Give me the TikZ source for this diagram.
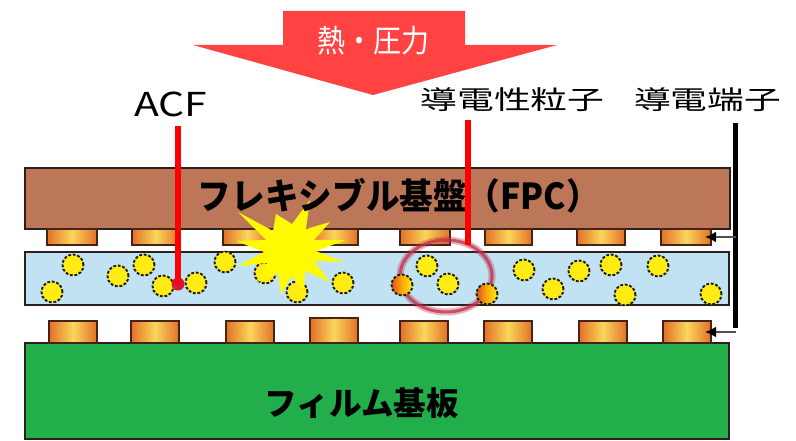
\documentclass[tikz,border=0pt]{standalone}
\usepackage{fontspec}
\setmainfont{Noto Sans CJK JP}
\usepackage{graphicx}
\usetikzlibrary{arrows.meta}

\definecolor{arrowred}{RGB}{255,66,66}
\definecolor{fpcbrown}{RGB}{188,118,88}
\definecolor{acfblue}{RGB}{192,226,242}
\definecolor{filmgreen}{RGB}{33,174,75}
\definecolor{edge}{RGB}{45,30,28}
\definecolor{eledge}{RGB}{70,35,20}
\definecolor{elorange}{RGB}{226,112,40}
\definecolor{elyellow}{RGB}{250,214,92}
\definecolor{partyellow}{RGB}{255,236,20}
\definecolor{partedge}{RGB}{30,28,15}
\definecolor{hotred}{RGB}{222,80,30}
\definecolor{ptrred}{RGB}{255,0,0}
\definecolor{dotred}{RGB}{212,24,52}
\definecolor{ringred}{RGB}{190,45,72}
\definecolor{feedgray}{RGB}{80,80,80}
\definecolor{burst}{RGB}{255,250,0}

% scale a text box to a given width and total height (in pt)
\newcommand{\fitto}[3]{\resizebox*{#1pt}{#2pt}{#3}}

\begin{document}
\begin{tikzpicture}[x=1pt,y=-1pt,
  layer/.style={draw=edge, line width=1.4pt, inner sep=0pt, outer sep=0pt, anchor=north west},
  electrode/.style={draw=eledge, line width=1.4pt, inner sep=0pt, outer sep=0pt, anchor=north west,
    left color=elorange, right color=elorange, middle color=elyellow},
  particle/.style={circle, minimum size=21pt, inner sep=0pt, outer sep=0pt, fill=partyellow,
    draw=partedge, line width=1.9pt, dash pattern=on 2.8pt off 1.8pt},
  hotparticle/.style={particle, left color=hotred, right color=partyellow, middle color=orange!60!partyellow},
  lbl/.style={inner sep=0pt, outer sep=0pt},
  pointer/.style={draw=ptrred, line width=5.5pt},
  bar/.style={draw=black, line width=5.5pt},
  feed/.style={draw=feedgray, line width=2.2pt, -{Latex[length=11pt,width=11pt,color=black]}}
]
\path[use as bounding box, fill=white] (0,0) rectangle (796,441);

% heat and pressure arrow
\fill[arrowred] (283,11) -- (465,11) -- (465,45) -- (557,45) -- (373,95) -- (193,45) -- (283,45) -- cycle;
\node[lbl, text=white] (heat) at (373,41) {\fitto{112}{29}{熱・圧力}};

% flexible printed circuit
\node[layer, fill=fpcbrown, minimum width=705pt, minimum height=61pt] (fpc) at (25,168) {};
\foreach \ex/\ew [count=\i] in {47/50,132/48,223/48,310/48,400/50,485/47,577/48,661/50}
  \node[electrode, minimum width=\ew pt, minimum height=16pt] (te\i) at (\ex,229) {};

% anisotropic conductive film
\node[layer, fill=acfblue, minimum width=704pt, minimum height=53pt] (acf) at (25,252) {};

% highlighted pair of trapped particles
\draw[ringred, line width=7pt, opacity=0.35] (446,276) ellipse [x radius=46, y radius=36];
\draw[ringred, line width=3pt, opacity=0.75] (446,276) ellipse [x radius=46, y radius=36];

\foreach \px/\py [count=\k] in {73/265,52/292,118/276,144/265,163/286,196/283,225/262,265/273,
    297/292,343/283,427/266,448/284,524/270,553/289,579/271,611/265,625/295,658/266,711/294}
  \node[particle] (p\k) at (\px,\py) {};
\node[hotparticle] (h1) at (402,285) {};
\node[hotparticle] (h2) at (487,294) {};

% film substrate
\node[layer, fill=filmgreen, minimum width=704pt, minimum height=96pt] (film) at (25,343) {};
\foreach \ex/\ey/\eh [count=\i] in {49/321/22,131/321/22,226/321/22,310/318/25,400/321/22,484/321/22,579/321/22,663/321/22}
  \node[electrode, minimum width=48pt, minimum height=\eh pt] (be\i) at (\ex,\ey) {};

% burst of heat
\fill[burst] (236,241) -- (266,240) -- (238,212) -- (273,231) -- (276,214) -- (292,224)
  -- (310,200) -- (306,229) -- (330,222) -- (314,240) -- (346,240) -- (316,251)
  -- (344,262) -- (314,261) -- (330,282) -- (305,271) -- (304,292) -- (292,276)
  -- (281,294) -- (278,273) -- (258,282) -- (267,263) -- (238,266) -- (264,252) -- cycle;

% layer titles
\node[lbl] (fpctitle) at (399,195.5) {\fitto{402}{35}{\bfseries フレキシブル基盤（FPC）}};
\node[lbl] (filmtitle) at (362,403) {\fitto{194}{31}{\bfseries フィルム基板}};

% callouts
\node[lbl] (acflbl) at (171,104.5) {\fitto{73}{25}{ACF}};
\node[lbl] (cplbl) at (512.5,100) {\fitto{184}{24}{導電性粒子}};
\node[lbl] (termlbl) at (707.5,100) {\fitto{147}{24}{導電端子}};

\node[circle, fill=dotred, minimum size=13pt, inner sep=0pt] (acfdot) at (178,284) {};
\draw[pointer] ([yshift=-9pt]acfdot |- acflbl.south) -- (acfdot.center);

\coordinate (cpend) at (468,245);
\draw[pointer] ([yshift=-8pt]cpend |- cplbl.south) -- (cpend);

\coordinate (bartop) at (735.5,123);
\coordinate (barbot) at (735.5,328);
\draw[bar] (bartop) -- (barbot);
\draw[feed] (te8.east -| bartop) -- ([xshift=-6pt]te8.east);
\draw[feed] (be8.east -| barbot) -- ([xshift=-6pt]be8.east);
\end{tikzpicture}
\end{document}
